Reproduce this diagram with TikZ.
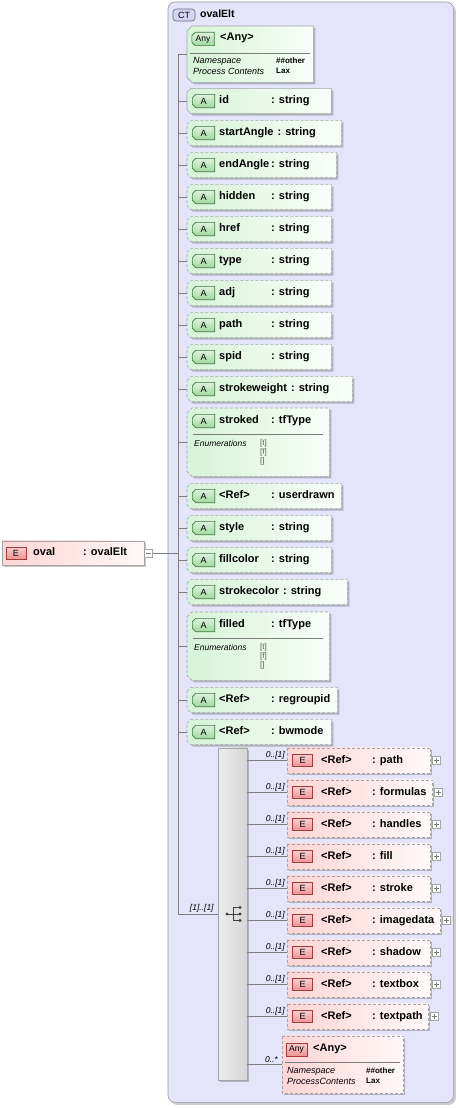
\documentclass[tikz,border=0pt]{standalone}
\usepackage{fontspec}
\setmainfont{Liberation Sans}
\usetikzlibrary{shadows,positioning}

\definecolor{ctfill}{RGB}{228,228,250}
\definecolor{ctline}{RGB}{150,150,175}
\definecolor{cttagfill}{RGB}{212,212,242}
\definecolor{attfill}{RGB}{214,244,214}
\definecolor{eltfill}{RGB}{255,212,212}
\definecolor{boxline}{RGB}{165,165,165}
\definecolor{atagfill}{RGB}{160,216,160}
\definecolor{atagline}{RGB}{60,120,60}
\definecolor{etagfill}{RGB}{238,148,148}
\definecolor{etagline}{RGB}{160,60,60}
\definecolor{seqfill}{RGB}{214,214,214}
\definecolor{connline}{RGB}{125,125,125}

\pgfdeclarelayer{back}
\pgfdeclarelayer{bg}
\pgfsetlayers{back,bg,main}

% outline with the two left corners cut
\newcommand{\chamf}[2]{([yshift=-#2]#1.north west) -- ([xshift=#2]#1.north west) -- (#1.north east) -- (#1.south east) -- ([xshift=#2]#1.south west) -- ([yshift=#2]#1.south west) -- cycle}
% name column: pad short names, keep a gap after long ones
\newcommand{\namecol}[2]{\setbox0\hbox{#1}\ifdim\wd0<#2\makebox[#2][l]{#1}\else#1\hspace{4pt}\fi}

\tikzset{
  holder/.style={inner sep=0pt, anchor=west, minimum height=#1},
  boxshadow/.style={drop shadow={shadow xshift=2pt, shadow yshift=-2pt, opacity=0.22, fill=black}},
  attshape/.style={draw=boxline, line width=0.6pt, left color=attfill, right color=attfill!15!white, boxshadow},
  eltshape/.style={draw=boxline, line width=0.6pt, left color=eltfill, right color=eltfill!15!white, boxshadow},
  optional/.style={dash pattern=on 3pt off 2pt},
  atag/.style={inner sep=0pt, minimum width=22pt, minimum height=13pt, font=\fontsize{9}{9}\selectfont},
  atagshape/.style={draw=atagline, line width=0.6pt, top color=atagfill!35!white, bottom color=atagfill},
  etag/.style={draw=etagline, line width=0.6pt, top color=etagfill!45!white, bottom color=etagfill, inner sep=0pt, minimum width=20pt, minimum height=12pt, font=\fontsize{9}{9}\selectfont},
  cttag/.style={draw=ctline!70!black, line width=0.6pt, fill=cttagfill, rounded corners=3pt, inner sep=0pt, minimum width=22pt, minimum height=12pt, font=\fontsize{9}{9}\selectfont},
  lbl/.style={inner sep=0pt, anchor=west, text height=8pt, text depth=2.5pt, font=\fontsize{11}{13}\selectfont\bfseries},
  small/.style={inner sep=0pt, anchor=west, font=\fontsize{9}{10}\selectfont\itshape},
  val/.style={inner sep=0pt, anchor=west, font=\fontsize{8}{9}\selectfont\bfseries},
  enumval/.style={inner sep=0pt, anchor=west, font=\fontsize{8}{9}\selectfont, text=black!65},
  card/.style={inner sep=0pt, anchor=south east, font=\fontsize{8.5}{9}\selectfont\itshape},
  conn/.style={draw=connline, line width=0.6pt},
  pm/.style={draw=boxline, fill=white, inner sep=0pt, minimum size=8pt, anchor=west},
  plusbox/.style={pm, path picture={\draw[connline] ([xshift=1.5pt]path picture bounding box.west) -- ([xshift=-1.5pt]path picture bounding box.east) ([yshift=1.5pt]path picture bounding box.south) -- ([yshift=-1.5pt]path picture bounding box.north);}},
  minusbox/.style={pm, path picture={\draw[connline] ([xshift=1.5pt]path picture bounding box.west) -- ([xshift=-1.5pt]path picture bounding box.east);}},
}

\begin{document}
\begin{tikzpicture}[x=1pt,y=-1pt]
\useasboundingbox (0,0) rectangle (458,1108);

%%%%% complex type frame
\node[inner sep=0pt, anchor=north west, minimum width=285pt, minimum height=1100pt] (ct) at (168,2) {};
\begin{pgfonlayer}{back}
\draw[draw=ctline, fill=ctfill, rounded corners=7pt, line width=0.6pt, drop shadow={shadow xshift=2.5pt, shadow yshift=-2.5pt, opacity=0.2, fill=black}] (ct.north west) rectangle (ct.south east);
\end{pgfonlayer}
\node[cttag] (ct-tag) at (184,15) {CT};
\node[lbl, font=\fontsize{10.5}{12}\selectfont\bfseries] (ct-title) at (200,15) {ovalElt};

\coordinate (spine-top) at (178,54);
\coordinate (spine-bot) at (178,914);
\draw[conn] (spine-top) -- (spine-bot);

%%%%% any attribute
\node[inner sep=0pt, anchor=north west, minimum width=126pt, minimum height=56pt] (any1) at (187,26) {};
\node[atag, font=\fontsize{8.5}{9}\selectfont] (any1-tag) at (203,39) {Any};
\begin{pgfonlayer}{bg}
\draw[attshape] \chamf{any1}{5pt};
\draw[atagshape] \chamf{any1-tag}{3.5pt};
\end{pgfonlayer}
\node[lbl] (any1-txt) at (220,38) {<Any>};
\draw[conn] ([xshift=3pt]any1.west |- 0,53) -- ([xshift=-3pt]any1.east |- 0,53);
\node[small] (any1-ns) at (193,61.5) {Namespace};
\node[small] (any1-pc) at (193,71) {Process Contents};
\node[val] (any1-nsv) at (276,61) {\#\#other};
\node[val] (any1-pcv) at (276,71) {Lax};
\draw[conn] (spine-top |- any1.west) -- (any1.west);

%%%%% attributes
\foreach \i/\y/\nm/\ty/\rx/\ds in {
  1/101/id/string/331/solid, 2/133/startAngle/string/341/optional,
  3/165/endAngle/string/336/optional, 4/197/hidden/string/331/optional,
  5/229/href/string/331/optional, 6/261/type/string/331/optional,
  7/293/adj/string/331/optional, 8/325/path/string/331/optional,
  9/357/spid/string/331/optional, 10/389/strokeweight/string/352/optional,
  12/496/<Ref>/userdrawn/341/optional, 13/528/style/string/331/optional,
  14/560/fillcolor/string/331/optional, 15/592/strokecolor/string/347/optional,
  17/700/<Ref>/regroupid/337/optional, 18/732/<Ref>/bwmode/331/optional}{
  \node[holder=25pt, minimum width={\rx-187}] (a\i) at (187,\y) {};
  \node[atag] (a\i-tag) at (203.5,\y) {A};
  \begin{pgfonlayer}{bg}
  \draw[attshape,\ds] \chamf{a\i}{4pt};
  \draw[atagshape] \chamf{a\i-tag}{3.5pt};
  \end{pgfonlayer}
  \node[lbl] (a\i-txt) at (219,\y) {\namecol{\nm}{52pt}: \ty};
  \draw[conn] (spine-top |- a\i.west) -- (a\i.west);
}

%%%%% attributes with enumerations
\foreach \i/\tp/\nm in {11/408/stroked, 16/612/filled}{
  \node[holder=68pt, minimum width=142pt, anchor=north west] (a\i) at (187,\tp) {};
  \node[atag] (a\i-tag) at (203.5,{\tp+13}) {A};
  \begin{pgfonlayer}{bg}
  \draw[attshape,optional] \chamf{a\i}{5pt};
  \draw[atagshape] \chamf{a\i-tag}{3.5pt};
  \end{pgfonlayer}
  \node[lbl] (a\i-txt) at (219,{\tp+12.5}) {\namecol{\nm}{52pt}: tfType};
  \draw[conn] ([xshift=6pt,yshift=-26pt]a\i.north west) -- ([xshift=-6pt,yshift=-26pt]a\i.north east);
  \node[small, font=\fontsize{8.5}{9}\selectfont\itshape] (a\i-enum) at (194,{\tp+35}) {Enumerations};
  \node[enumval] (a\i-v1) at (260,{\tp+35}) {[t]};
  \node[enumval] (a\i-v2) at (260,{\tp+44}) {[f]};
  \node[enumval] (a\i-v3) at (260,{\tp+53}) {[]};
  \draw[conn] (spine-top |- a\i.west) -- (a\i.west);
}

%%%%% the element
\node[holder=24pt, minimum width=142pt] (oval) at (2,553) {};
\begin{pgfonlayer}{bg}
\draw[eltshape] (oval.north west) rectangle (oval.south east);
\end{pgfonlayer}
\node[etag] (oval-tag) at (16,553) {E};
\node[lbl] (oval-txt) at (33,553) {\namecol{oval}{50pt}: ovalElt};
\node[minusbox] (oval-minus) at (oval.east) {};
\draw[conn] (oval-minus.east) -- (spine-top |- oval-minus.east);

%%%%% sequence
\node[inner sep=0pt, minimum width=29pt, minimum height=332pt] (seq) at (232.5,914) {};
\begin{pgfonlayer}{bg}
\draw[draw=boxline, line width=0.6pt, left color=seqfill!45!white, right color=seqfill, boxshadow] (seq.north west) rectangle (seq.south east);
\end{pgfonlayer}
\draw[conn] (spine-bot) -- (seq.west);
\node[card] (seq-card) at ([xshift=-4pt,yshift=1.5pt]seq.west) {[1]..[1]};
\fill[black!75] ([xshift=-5.5pt]seq.center) circle (1.7pt);
\draw[black!75, line width=0.8pt] ([xshift=-5.5pt]seq.center) -- ([xshift=0.5pt]seq.center)
  ([xshift=0.5pt,yshift=6.5pt]seq.center) -- ([xshift=0.5pt,yshift=-6.5pt]seq.center);
\foreach \s in {-6.5,0,6.5}{
  \draw[black!75, line width=0.8pt] ([xshift=0.5pt,yshift=\s pt]seq.center) -- ([xshift=7.5pt,yshift=\s pt]seq.center);
  \fill[black!75] ([xshift=7.5pt,yshift=\s pt]seq.center) circle (1.7pt);
}

%%%%% children of the sequence
\foreach \i/\y/\nm/\rx in {1/760.5/path/430, 2/792.5/formulas/432, 3/824.5/handles/430,
  4/856.5/fill/430, 5/888.5/stroke/430, 6/920.5/imagedata/440, 7/952.5/shadow/430,
  8/984.5/textbox/430, 9/1016.5/textpath/428}{
  \node[holder=25pt, minimum width={\rx-287}] (c\i) at (287,\y) {};
  \begin{pgfonlayer}{bg}
  \draw[eltshape,optional] (c\i.north west) rectangle (c\i.south east);
  \end{pgfonlayer}
  \node[etag] (c\i-tag) at (302.5,\y) {E};
  \node[lbl] (c\i-txt) at (321,\y) {\namecol{<Ref>}{51pt}: \nm};
  \node[plusbox] (c\i-plus) at ([xshift=2pt]c\i.east) {};
  \draw[conn] (seq.east |- c\i.west) -- (c\i.west);
  \node[card] (c\i-card) at ([xshift=-2pt,yshift=1.5pt]c\i.west) {0..[1]};
}

%%%%% any element
\node[holder=57pt, minimum width=121pt] (any2) at (282,1064.5) {};
\begin{pgfonlayer}{bg}
\draw[eltshape,optional] (any2.north west) rectangle (any2.south east);
\end{pgfonlayer}
\node[etag, minimum width=21pt, minimum height=13pt, font=\fontsize{8.5}{9}\selectfont] (any2-tag) at (296.5,1049.5) {Any};
\node[lbl] (any2-txt) at (313,1048.5) {<Any>};
\draw[conn] ([xshift=3pt]any2.west |- 0,1062.5) -- ([xshift=-3pt]any2.east |- 0,1062.5);
\node[small] (any2-ns) at (287,1071) {Namespace};
\node[small] (any2-pc) at (287,1081) {ProcessContents};
\node[val] (any2-nsv) at (366,1071) {\#\#other};
\node[val] (any2-pcv) at (366,1081) {Lax};
\draw[conn] (seq.east |- any2.west) -- (any2.west);
\node[card] (any2-card) at ([xshift=-4pt,yshift=1.5pt]any2.west) {0..*};

\end{tikzpicture}
\end{document}
